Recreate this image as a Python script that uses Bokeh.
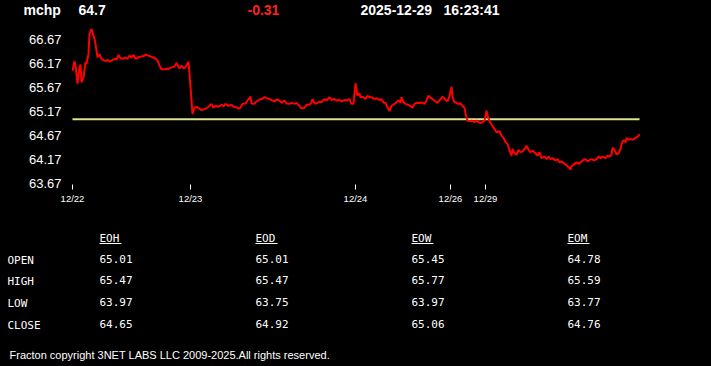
from bokeh.plotting import figure
from bokeh.layouts import column
from bokeh.models import Range1d, FixedTicker, ColumnDataSource, PrintfTickFormatter
from bokeh.core.properties import value
from bokeh.embed import file_html
from bokeh.resources import INLINE

# ---------------- data ----------------
SYMBOL = "mchp"
LAST = "64.7"
CHANGE = "-0.31"
DATE = "2025-12-29"
TIME = "16:23:41"
PREV_CLOSE = 65.01

# intraday time position (session minutes, compressed) and price
T = [0, 2, 3, 5, 7, 8, 9, 11, 13, 14,
     16, 17, 19, 20, 22, 23, 25, 27, 28, 30,
     33, 35, 37, 39, 42, 44, 46, 48, 50, 53,
     55, 57, 59, 61, 63, 66, 69, 71, 73, 75,
     78, 80, 83, 85, 87, 89, 93, 96, 99, 102,
     104, 107, 109, 111, 113, 116, 117, 119, 120, 122,
     124, 127, 129, 133,
     136, 139, 141, 143, 146, 149, 151, 153, 156, 159,
     161, 164, 166, 168, 170, 173, 175, 178, 179, 182,
     184, 187, 189, 192, 194, 197, 199, 202, 204, 207,
     209, 212, 214, 217, 219, 222, 224, 227, 229, 232,
     234, 237, 239, 240, 242, 244, 247, 249, 252, 254,
     257, 259, 262, 264, 267, 269, 272, 274, 277, 279,
     281, 282, 283, 285, 287, 288, 290, 293, 295, 297,
     299, 302, 304, 307, 309, 311, 313, 315, 317, 319,
     322, 324, 326, 328, 329, 331, 333, 336, 339, 340,
     342, 344, 347, 349, 352, 354, 356, 358, 360, 363,
     365, 368, 370, 373, 375, 377, 379, 380, 382, 384,
     385, 388, 390, 392, 393, 395, 397, 399, 402, 404,
     406, 408, 410, 412, 414, 415, 417, 419,
     422, 424, 427, 429, 431, 433, 435, 437, 439, 440,
     442, 444, 446, 448, 450, 453, 454, 456, 458, 460,
     463, 465, 467, 469, 472, 474, 476, 478, 480, 483,
     485, 487, 489, 492, 494, 496, 498, 499, 502, 504,
     506, 508, 510, 513, 515, 517, 519, 522, 524, 526,
     528, 530, 533, 535, 537, 539, 540, 542, 544, 546,
     548, 549, 551, 553, 554, 556, 558, 560, 563, 565,
     567]

PRICE = [66.02, 66.22, 66.13, 65.75, 66.09, 66.15, 65.78, 65.88, 66.20, 66.16,
         66.37, 66.79, 66.89, 66.82, 66.68, 66.58, 66.30, 66.37, 66.30, 66.25,
         66.22, 66.25, 66.21, 66.23, 66.27, 66.25, 66.35, 66.28, 66.27, 66.29,
         66.27, 66.34, 66.29, 66.35, 66.27, 66.30, 66.32, 66.32, 66.36, 66.34,
         66.32, 66.30, 66.28, 66.23, 66.13, 66.05, 66.05, 66.06, 66.09, 66.11,
         66.18, 66.07, 66.13, 66.07, 66.09, 66.21, 65.96, 65.40, 65.12, 65.25,
         65.27, 65.23, 65.20, 65.23,
         65.27, 65.33, 65.25, 65.29, 65.27, 65.31, 65.28, 65.33, 65.29, 65.31,
         65.27, 65.26, 65.23, 65.25, 65.33, 65.34, 65.40, 65.48, 65.34, 65.33,
         65.38, 65.42, 65.43, 65.47, 65.45, 65.43, 65.41, 65.38, 65.42, 65.40,
         65.35, 65.40, 65.34, 65.33, 65.35, 65.33, 65.35, 65.29, 65.23, 65.25,
         65.31, 65.31, 65.36, 65.43, 65.34, 65.34, 65.38, 65.36, 65.43, 65.40,
         65.47, 65.41, 65.43, 65.40, 65.41, 65.38, 65.41, 65.40, 65.43, 65.33,
         65.33, 65.54, 65.76, 65.50, 65.55, 65.46, 65.48, 65.43, 65.50, 65.47,
         65.47, 65.43, 65.45, 65.41, 65.43, 65.36, 65.35, 65.26, 65.18, 65.29,
         65.33, 65.36, 65.41, 65.35, 65.47, 65.36, 65.33, 65.31, 65.27, 65.25,
         65.33, 65.35, 65.35, 65.36, 65.33, 65.40, 65.50, 65.46, 65.43, 65.38,
         65.35, 65.43, 65.48, 65.41, 65.38, 65.50, 65.69, 65.47, 65.36, 65.36,
         65.33, 65.34, 65.29, 65.25, 65.12, 64.98, 64.97, 64.98, 64.95, 64.98,
         64.95, 64.93, 64.95, 64.98, 65.19, 65.09, 64.97, 64.90,
         64.81, 64.74, 64.76, 64.67, 64.62, 64.53, 64.50, 64.36, 64.25, 64.39,
         64.30, 64.27, 64.37, 64.32, 64.34, 64.42, 64.46, 64.37, 64.32, 64.36,
         64.30, 64.25, 64.32, 64.20, 64.23, 64.18, 64.23, 64.18, 64.20, 64.15,
         64.18, 64.11, 64.13, 64.08, 64.05, 64.01, 63.96, 64.03, 64.08, 64.11,
         64.08, 64.11, 64.15, 64.18, 64.13, 64.16, 64.18, 64.15, 64.18, 64.23,
         64.20, 64.23, 64.20, 64.25, 64.23, 64.27, 64.42, 64.37, 64.28, 64.30,
         64.39, 64.50, 64.57, 64.53, 64.62, 64.58, 64.60, 64.58, 64.62, 64.64,
         64.70]

DAY_TICKS = [0, 118, 283, 378, 413]
DAY_LABELS = ["12/22", "12/23", "12/24", "12/26", "12/29"]
Y_TICKS = [63.67, 64.17, 64.67, 65.17, 65.67, 66.17, 66.67]

PERIODS = ["EOH", "EOD", "EOW", "EOM"]
ROWS = ["OPEN", "HIGH", "LOW", "CLOSE"]
EOH = [65.01, 65.47, 63.97, 64.65]
EOD = [65.01, 65.47, 63.75, 64.92]
EOW = [65.45, 65.77, 63.97, 65.06]
EOM = [64.78, 65.59, 63.77, 64.76]

FOOTER = "Fracton copyright 3NET LABS LLC 2009-2025.All rights reserved."

# ---------------- styling ----------------
W = 711
BG = "#000000"
FG = "#ffffff"
SANS = "Liberation Sans"
MONO = "DejaVu Sans Mono"


def text_fig(h):
    f = figure(width=W, height=h, x_range=Range1d(0, W), y_range=Range1d(h, 0),
               output_backend="svg", toolbar_location=None, min_border=0,
               x_axis_location=None, y_axis_location=None, frame_align=False,
               background_fill_color=BG, border_fill_color=BG,
               outline_line_color=None)
    f.grid.visible = False
    return f


def txt(f, xs, ys, texts, font, size, color=FG, style="normal"):
    f.text(x=xs, y=ys, text=texts, text_color=color, text_font=value(font),
           text_font_size=size, text_font_style=style,
           text_baseline="middle", text_align="left")


# header (text centres)
hdr = text_fig(20)
txt(hdr, [23, 78, 360, 443], [9.3] * 4, [SYMBOL, LAST, DATE, TIME], SANS, "14px", style="bold")
txt(hdr, [247], [9.3], [CHANGE], SANS, "14px", color="#ff2020", style="bold")

# chart
ch = figure(width=W, height=205, x_range=Range1d(-6, 633), y_range=Range1d(63.65, 67.067),
            output_backend="svg", toolbar_location=None, frame_align=False,
            min_border_left=66, min_border_right=6, min_border_top=0, min_border_bottom=41,
            background_fill_color=BG, border_fill_color=BG, outline_line_color=None)
ch.grid.visible = False

ch.yaxis.ticker = FixedTicker(ticks=Y_TICKS)
ch.yaxis.formatter = PrintfTickFormatter(format="%.2f")
ch.yaxis.axis_line_color = None
ch.yaxis.major_tick_line_color = None
ch.yaxis.minor_tick_line_color = None
ch.yaxis.major_tick_out = 0
ch.yaxis.major_tick_in = 0
ch.yaxis.major_label_standoff = 5
ch.yaxis.major_label_text_color = FG
ch.yaxis.major_label_text_font = SANS
ch.yaxis.major_label_text_font_size = "13px"

ch.xaxis.ticker = FixedTicker(ticks=DAY_TICKS)
ch.xaxis.major_label_overrides = {t: lab for t, lab in zip(DAY_TICKS, DAY_LABELS)}
ch.xaxis.axis_line_color = None
ch.xaxis.minor_tick_line_color = None
ch.xaxis.major_tick_line_color = FG
ch.xaxis.major_tick_out = 5
ch.xaxis.major_tick_in = 0
ch.xaxis.major_label_standoff = 3
ch.xaxis.major_label_text_color = FG
ch.xaxis.major_label_text_font = SANS
ch.xaxis.major_label_text_font_size = "9.5px"

src = ColumnDataSource(dict(t=T, price=PRICE))
ch.line(x=[T[0], T[-1]], y=[PREV_CLOSE, PREV_CLOSE], line_color="#dde38a", line_width=2)
ch.line(x="t", y="price", source=src, line_color="#ff0000", line_width=2)

# table + footer (local y, figure starts 225px down the page)
bot = text_fig(141)
COL_X = [99, 255, 411, 567]
txt(bot, COL_X, [13] * 4, PERIODS, MONO, "11px")
bot.segment(x0=COL_X, x1=[x + 22 for x in COL_X], y0=[18] * 4, y1=[18] * 4,
            line_color=FG, line_width=1)
ROW_Y = [35, 56, 77.5, 100]
txt(bot, [7] * 4, ROW_Y, ROWS, MONO, "11px")
xs, ys, vs = [], [], []
for cx, col in zip(COL_X, [EOH, EOD, EOW, EOM]):
    for ry, v in zip(ROW_Y, col):
        xs.append(cx)
        ys.append(ry - 1.3)
        vs.append(f"{v:.2f}")
txt(bot, xs, ys, vs, MONO, "11px")
txt(bot, [9], [129.5], [FOOTER], SANS, "11px")

layout = column(hdr, ch, bot, spacing=0)

STYLE = "<style>html,body{margin:0 !important;padding:0;background:#000;overflow:hidden;}</style>"
html = file_html(layout, INLINE).replace("</head>", STYLE + "</head>", 1)
open("out.html", "w").write(html)
